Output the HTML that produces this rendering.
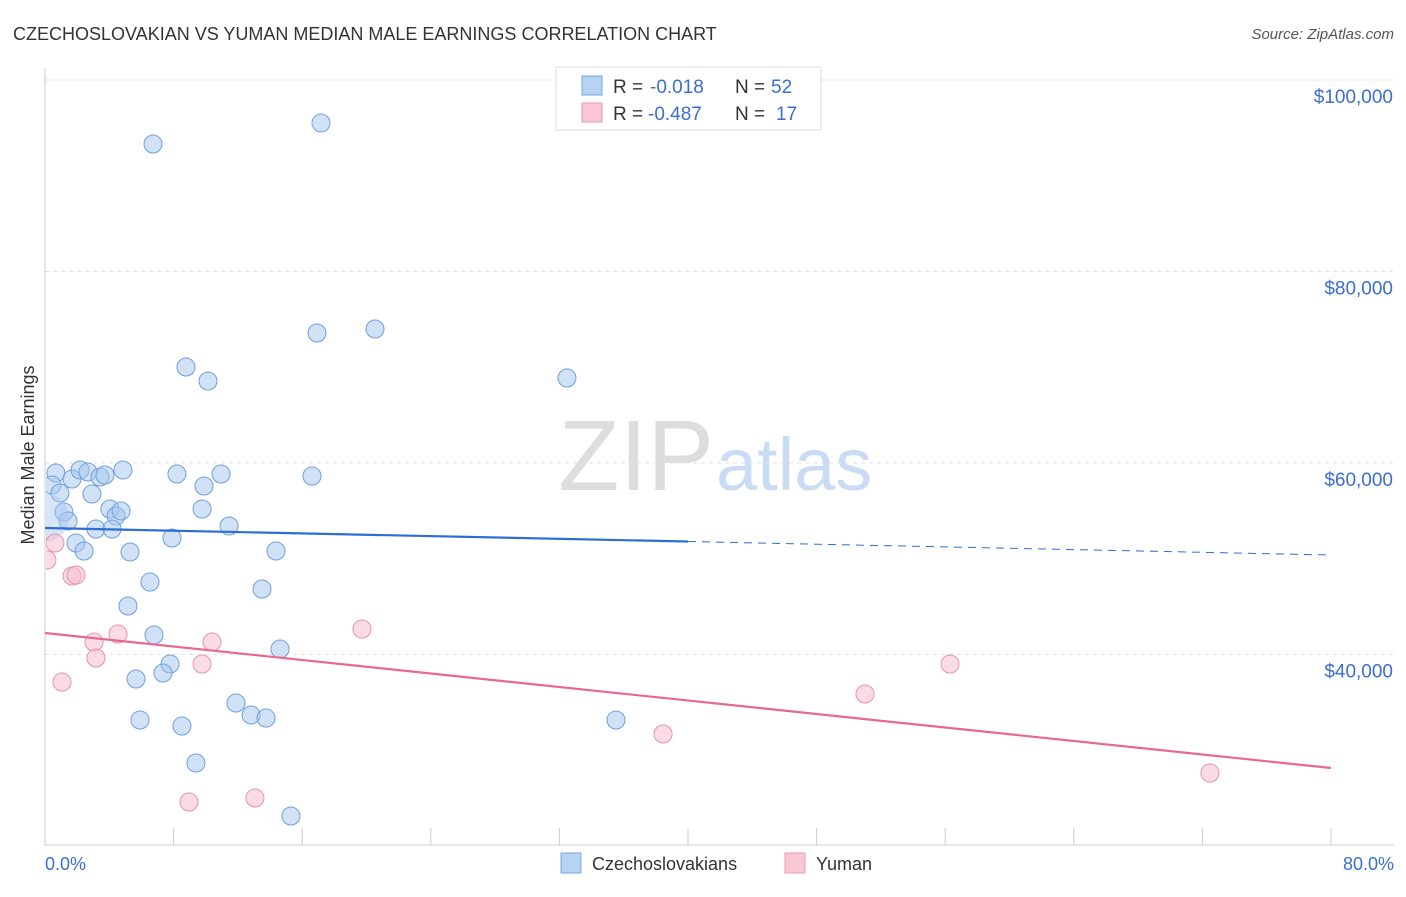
<!DOCTYPE html>
<html><head><meta charset="utf-8"><style>
body{margin:0;background:#fff;font-family:"Liberation Sans",sans-serif}
svg text{font-family:"Liberation Sans",sans-serif}
</style></head><body>
<svg id="chart" width="1406" height="892">
<defs><clipPath id="plotclip"><rect x="46" y="60" width="1360" height="785"/></clipPath></defs>
<text x="13" y="40" font-size="18" fill="#333">CZECHOSLOVAKIAN VS YUMAN MEDIAN MALE EARNINGS CORRELATION CHART</text>
<text x="1394" y="39" font-size="15" fill="#555" font-style="italic" text-anchor="end">Source: ZipAtlas.com</text>
<text x="714" y="490" font-size="100" fill="#ddd" font-family="Liberation Serif,serif" text-anchor="end">ZIP</text>
<text x="716" y="490" font-size="74" fill="#c9dcf3">atlas</text>
<g id="grid"></g>
<g id="axes"></g>
<g id="points" clip-path="url(#plotclip)"></g>
<g id="lines"></g>
<text x="34" y="455" font-size="18" fill="#333" text-anchor="middle" transform="rotate(-90 34 455)">Median Male Earnings</text>
<text x="45" y="870" font-size="18" fill="#3a6fd0">0.0%</text>
<text x="1394" y="870" font-size="18" fill="#3a6fd0" text-anchor="end">80.0%</text>
<g>
<rect x="556" y="67" width="265" height="63" fill="#fff" stroke="#ddd"/>
<rect x="582" y="76" width="20" height="19" fill="#b8d2f4" stroke="#7aa6e0"/>
<rect x="582" y="103" width="20" height="19" fill="#f9c6d6" stroke="#e99ab3"/>
<text x="613" y="93" font-size="19" fill="#333">R =</text>
<text x="650" y="93" font-size="19" fill="#3a6fd0">-0.018</text>
<text x="735" y="93" font-size="19" fill="#333">N =</text>
<text x="771" y="93" font-size="19" fill="#3a6fd0">52</text>
<text x="613" y="120" font-size="19" fill="#333">R =</text>
<text x="648" y="120" font-size="19" fill="#3a6fd0">-0.487</text>
<text x="735" y="120" font-size="19" fill="#333">N =</text>
<text x="776" y="120" font-size="19" fill="#3a6fd0">17</text>
</g>
<g>
<rect x="561" y="853" width="20" height="20" fill="#b8d2f4" stroke="#7aa6e0"/>
<text x="592" y="870" font-size="18" fill="#333">Czechoslovakians</text></g>
<g>
<rect x="785" y="853" width="20" height="20" fill="#f9c6d6" stroke="#e99ab3"/>
<text x="816" y="870" font-size="18" fill="#333">Yuman</text></g>
</svg>
<script>
const yTicks=[40000,60000,80000,100000];
const yTickLabels=["$40,000","$60,000","$80,000","$100,000"];
const blueX=[6.72,17.17,8.77,10.14,16.92,20.53,32.47,0.68,0.44,0.93,1.68,2.18,2.67,3.42,3.73,4.85,8.21,9.89,10.95,16.61,2.92,1.18,1.43,4.04,4.42,4.73,3.17,4.17,9.77,11.45,1.93,2.43,5.29,7.90,14.37,6.53,13.50,5.16,6.78,14.62,7.78,7.34,5.66,11.88,12.82,13.75,5.91,8.52,35.52,9.39,15.30,0.0];
const blueY=[93316,95509,70026,68564,73577,73994,68877,58955,57702,56866,58328,59268,59060,58537,58746,59268,58851,57598,58851,58642,56762,54880,53940,55195,54464,54986,53105,53105,55195,53419,51644,50808,50704,52166,50808,47571,46840,45065,42036,40574,39008,38068,37441,34934,33681,33368,33158,32532,33158,28667,23132,54300];
const pinkX=[0.12,0.62,1.68,1.93,1.06,3.05,3.17,4.54,10.39,9.77,8.96,13.06,19.72,38.45,51.01,56.30,72.47];
const pinkY=[49869,51644,48198,48302,37127,41305,39634,42140,41305,39008,24594,25012,42662,31698,35876,39008,27623];
const blueTrend=[53210,50390];
const pinkTrend=[42245,28146];
const X0=45,X1=1331,Y100=80,PXPER=191.5/20000;
const sx=v=>X0+(v/80)*(X1-X0);
const sy=v=>Y100+(100000-v)*PXPER;
const NS="http://www.w3.org/2000/svg";
function mk(tag,attrs,parent){const e=document.createElementNS(NS,tag);for(const k in attrs)e.setAttribute(k,attrs[k]);document.getElementById(parent).appendChild(e);return e;}
yTicks.forEach((t,i)=>{
 const g=mk('line',{x1:45,x2:1394,y1:sy(t),y2:sy(t),stroke:'#e2e2e2','stroke-dasharray':'4,4'},'grid');
 
 
 const l=mk('text',{x:1393,y:sy(t)+23,'font-size':19,fill:'#3a6fd0','text-anchor':'end'},'grid');
 l.textContent=yTickLabels[i];
 
 
});
const ax=mk('line',{x1:45,x2:45,y1:68,y2:845,stroke:'#ccc'},'axes');


const bx=mk('line',{x1:45,x2:1394,y1:845,y2:845,stroke:'#ccc'},'axes');


for(let i=1;i<=10;i++){const t=mk('line',{x1:sx(i*8),x2:sx(i*8),y1:828,y2:845,stroke:'#ccc'},'axes');
 
 }
function trend(vals,col,name,split){
 const yAt=x=>vals[0]+(vals[1]-vals[0])*x/80;
 if(split){
  const a=mk('line',{x1:sx(0),y1:sy(yAt(0)),x2:sx(40),y2:sy(yAt(40)),stroke:col,'stroke-width':2.2},'lines');
  
  
  const b=mk('line',{x1:sx(40),y1:sy(yAt(40)),x2:sx(80),y2:sy(yAt(80)),stroke:col,'stroke-width':1,'stroke-dasharray':'8,6'},'lines');
  
  
 }else{
  const a=mk('line',{x1:sx(0),y1:sy(yAt(0)),x2:sx(80),y2:sy(yAt(80)),stroke:col,'stroke-width':2.2},'lines');
  
  
 }
}
blueX.forEach((x,i)=>{const big=i==blueX.length-1;const c=mk('circle',{cx:sx(x),cy:sy(blueY[i]),r:big?24:9,fill:big?'rgba(164,198,240,0.45)':'rgba(164,198,240,0.5)',stroke:big?'none':'#6f9fdc','stroke-width':1},'points');
 
 });
pinkX.forEach((x,i)=>{const c=mk('circle',{cx:sx(x),cy:sy(pinkY[i]),r:9,fill:'rgba(247,186,205,0.5)',stroke:'#e891ad','stroke-width':1},'points');
 
 });
trend(blueTrend,'#2b6fd6','czechoslovakian-trend-line',true);
trend(pinkTrend,'#e8688f','yuman-trend-line',false);
</script>
</body></html>
